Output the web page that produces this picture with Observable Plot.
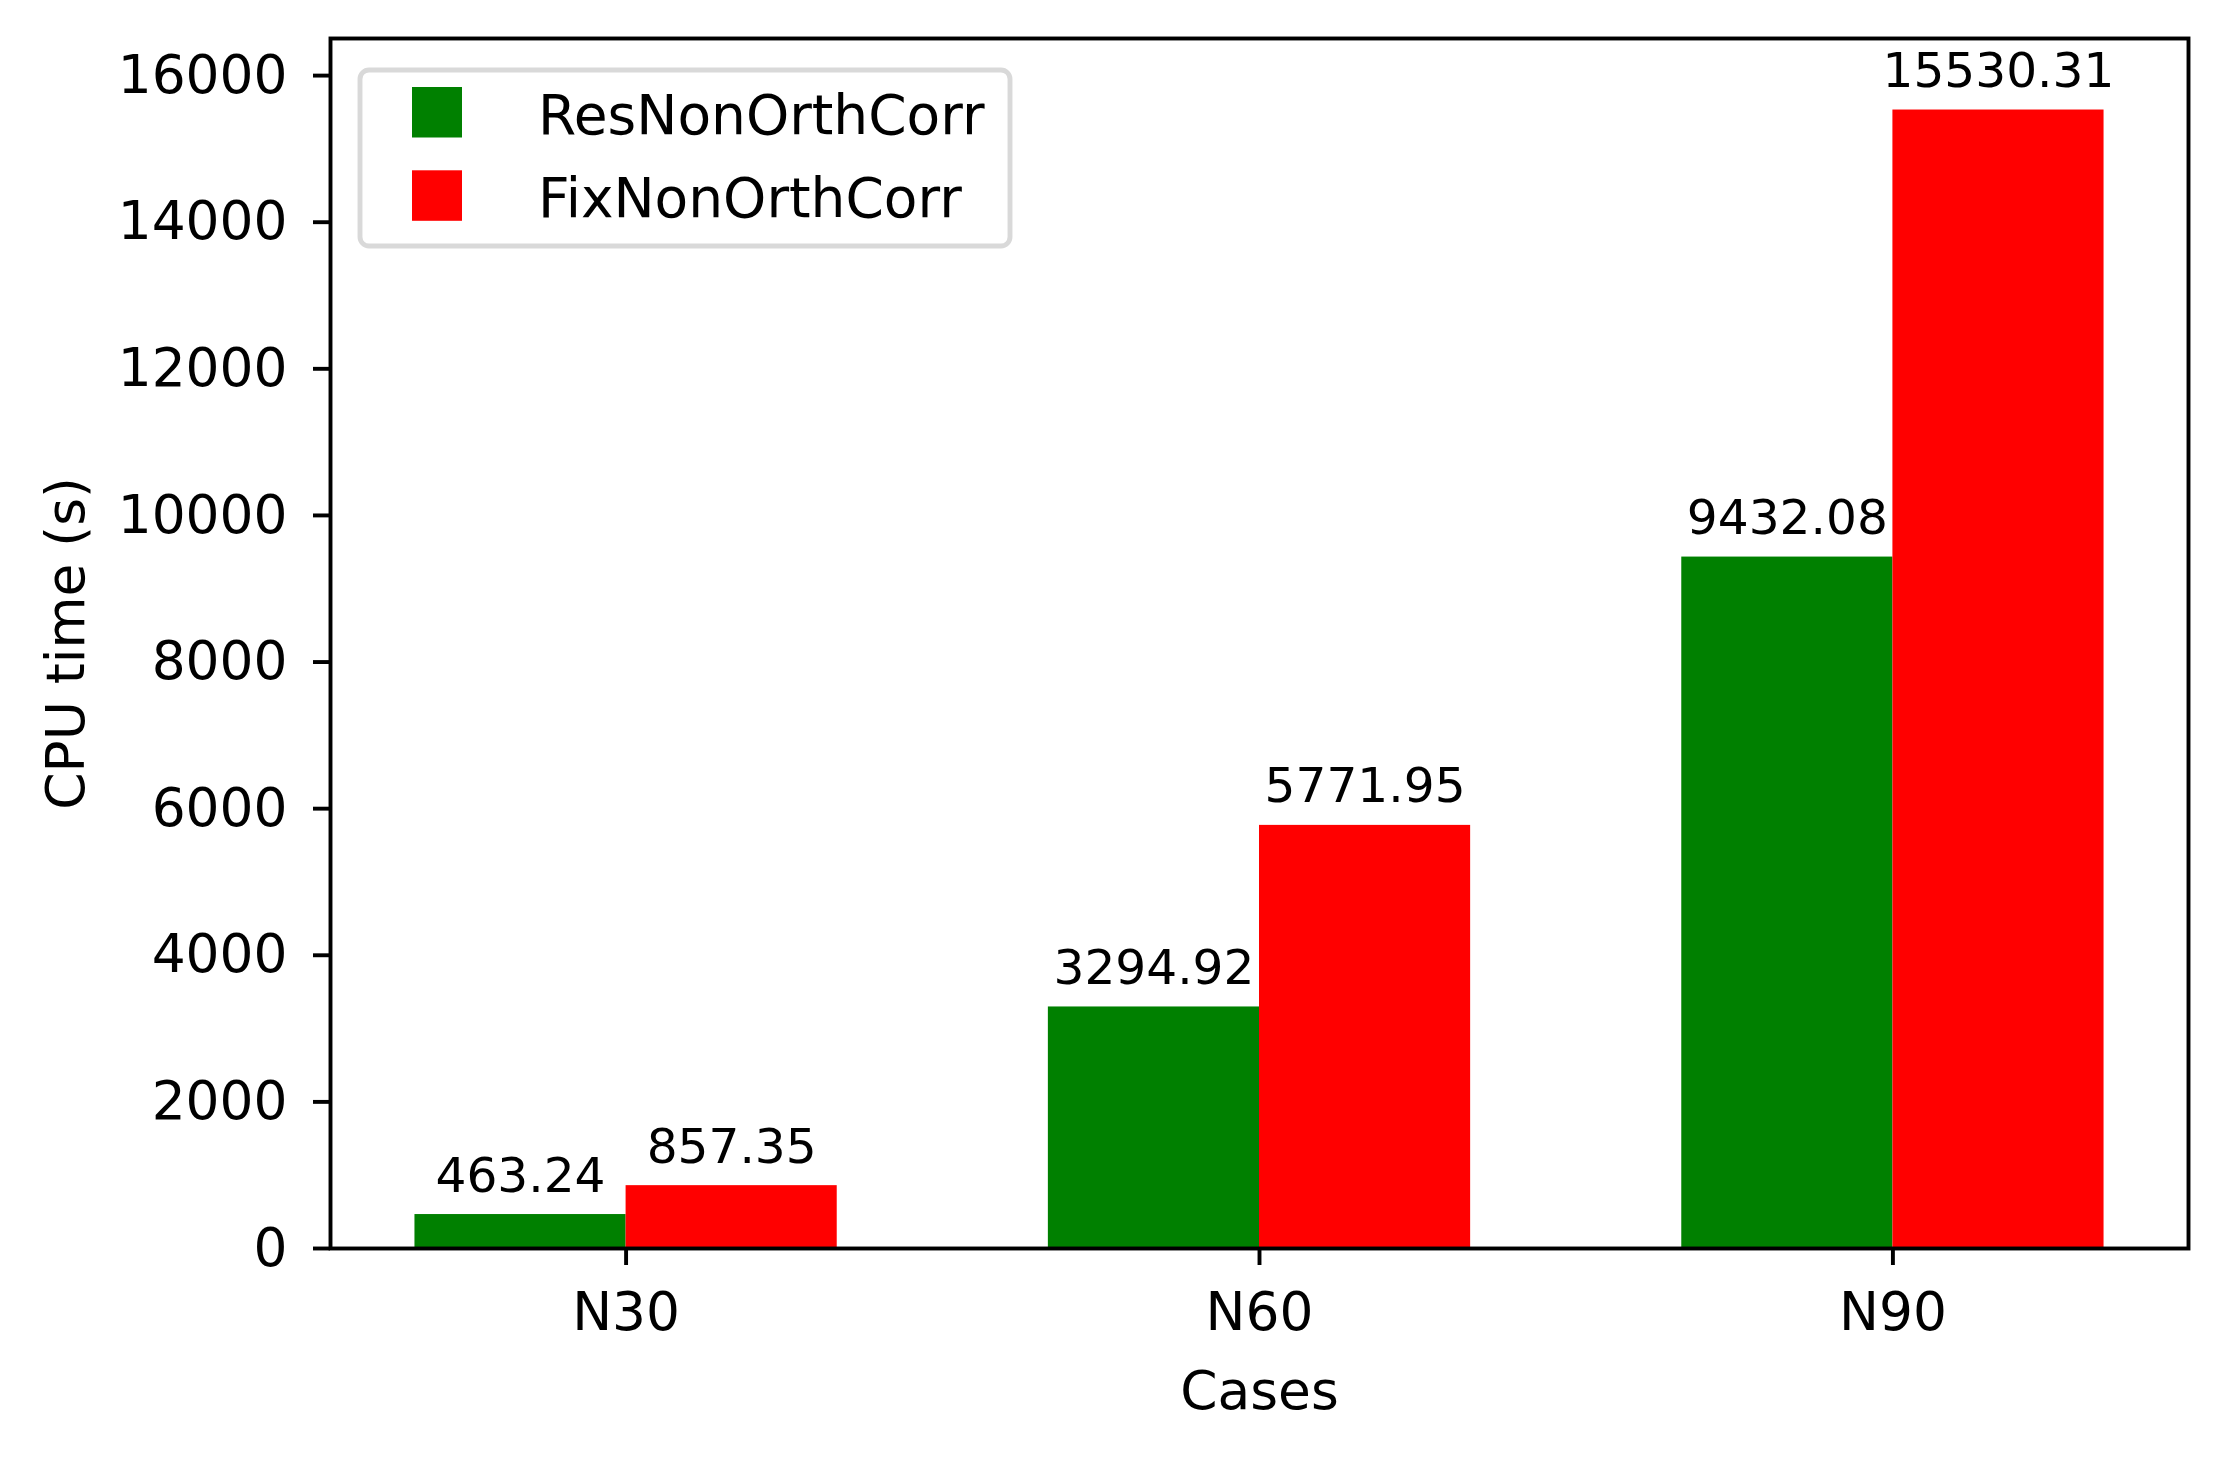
<!DOCTYPE html>
<html>
<head>
<meta charset="utf-8">
<script src="https://cdn.jsdelivr.net/npm/d3@7"></script>
<script src="https://cdn.jsdelivr.net/npm/@observablehq/plot@0.6"></script>
<style>
  html, body { margin: 0; padding: 0; background: #ffffff; }
  #chart { position: relative; width: 2231px; height: 1457px; }
  svg { display: block; }
</style>
</head>
<body>
<div id="chart"></div>
<script>
// ---- data ----
const categories = ["N30", "N60", "N90"];
const seriesNames = ["ResNonOrthCorr", "FixNonOrthCorr"];
const resValues = [463.24, 3294.92, 9432.08];
const fixValues = [857.35, 5771.95, 15530.31];
const seriesColors = ["#008000", "#ff0000"];
const yTicks = [0, 2000, 4000, 6000, 8000, 10000, 12000, 14000, 16000];
const xLabel = "Cases";
const yLabel = "CPU time (s)";

// ---- layout constants ----
const barW = 1 / 3;
const xPad = 1.1 * barW + 0.1;
const yMax = 16506;
const tickFont = 53.4;
const legendFont = 55;
const annFont = 48.6;
const lw = 3.9;

const seriesValues = [resValues, fixValues];
const rows = [];
categories.forEach((c, i) => {
  seriesValues.forEach((vals, s) => {
    rows.push({
      cat: c, series: seriesNames[s], value: vals[i], color: seriesColors[s],
      x1: i - barW + s * barW, x2: i + s * barW, y0: 0
    });
  });
});

const plot = Plot.plot({
  width: 2231,
  height: 1457,
  marginLeft: 330,
  marginRight: 43,
  marginTop: 38,
  marginBottom: 209,
  style: { fontFamily: "DejaVu Sans", fontSize: tickFont + "px", background: "#ffffff", color: "#000000" },
  x: { domain: [-xPad, categories.length - 1 + xPad] },
  y: { domain: [0, yMax] },
  color: { type: "identity" },
  marks: [
    Plot.rect(rows, { x1: "x1", x2: "x2", y1: "y0", y2: "value", fill: "color" }),
    Plot.text(rows, {
      x: d => (d.x1 + d.x2) / 2, y: "value", text: d => d.value.toFixed(2),
      dy: -23, lineAnchor: "bottom", textAnchor: "middle", fontSize: annFont, fill: "#000000"
    }),
    Plot.axisY({ ticks: yTicks, tickFormat: d => String(d), tickSize: 17, tickPadding: 26,
      fontSize: tickFont, strokeWidth: lw, stroke: "#000000", fill: "#000000", label: null }),
    Plot.axisX({ ticks: categories.map((c, i) => i), tickFormat: i => categories[i],
      tickSize: 17, tickPadding: 27, fontSize: tickFont, strokeWidth: lw, stroke: "#000000", fill: "#000000", label: null }),
    Plot.text([xLabel], { frameAnchor: "bottom", text: d => d, dy: 160, lineAnchor: "bottom",
      textAnchor: "middle", fontSize: tickFont, fill: "#000000" }),
    Plot.text([yLabel], { frameAnchor: "left", text: d => d, dx: -247, rotate: -90, lineAnchor: "bottom",
      textAnchor: "middle", fontSize: tickFont, fill: "#000000" }),
    Plot.frame({ stroke: "#000000", strokeWidth: lw })
  ]
});

document.getElementById("chart").appendChild(plot);

// ---- legend (inside the plot, upper left) ----
const svg = d3.select(plot);
const lg = svg.append("g").attr("class", "legend").attr("text-anchor", "start");
lg.append("rect")
  .attr("x", 360).attr("y", 70).attr("width", 650).attr("height", 176)
  .attr("rx", 9).attr("ry", 9)
  .attr("fill", "#ffffff").attr("fill-opacity", 0.8)
  .attr("stroke", "#d9d9d9").attr("stroke-width", 4.9);
seriesNames.forEach((name, s) => {
  const base = 133.5 + s * 83.3;
  lg.append("rect")
    .attr("x", 412).attr("y", base - 46.5).attr("width", 50).attr("height", 50.5)
    .attr("fill", seriesColors[s]);
  lg.append("text")
    .attr("x", 538).attr("y", base)
    .attr("text-anchor", "start")
    .attr("font-family", "DejaVu Sans").attr("font-size", legendFont)
    .attr("fill", "#000000")
    .text(name);
});
</script>
</body>
</html>
